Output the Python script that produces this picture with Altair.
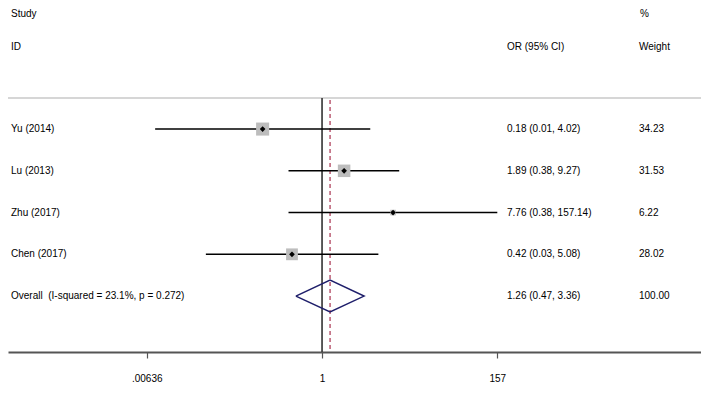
import altair as alt
import pandas as pd

# ---- data ----
studies = ["Yu (2014)", "Lu (2013)", "Zhu (2017)", "Chen (2017)"]
or_vals = [0.18, 1.89, 7.76, 0.42]
ci_low = [0.0081, 0.38, 0.38, 0.035]     # as drawn in the picture
ci_high = [4.02, 9.27, 157.14, 5.08]
weights = [34.23, 31.53, 6.22, 28.02]
or_labels = ["0.18 (0.01, 4.02)", "1.89 (0.38, 9.27)", "7.76 (0.38, 157.14)", "0.42 (0.03, 5.08)"]
weight_labels = ["34.23", "31.53", "6.22", "28.02"]

overall_name = "Overall\u00a0 (I-squared = 23.1%, p = 0.272)"
overall_or = 1.26
overall_low = 0.47
overall_high = 3.36
overall_label = "1.26 (0.47, 3.36)"
overall_weight = "100.00"

tick_values = [0.00636, 1, 157]
tick_labels = [".00636", "1", "157"]

FONT = "Liberation Sans"
FS = 10

rows = list(range(len(studies)))
overall_row = len(studies)

df = pd.DataFrame({
    "row": rows, "study": studies, "or": or_vals, "lo": ci_low, "hi": ci_high,
    "w": weights, "orlab": or_labels, "wlab": weight_labels,
})
text_df = pd.DataFrame({
    "row": rows + [overall_row],
    "study": studies + [overall_name],
    "orlab": or_labels + [overall_label],
    "wlab": weight_labels + [overall_weight],
})
half = 0.38
diamond_df = pd.DataFrame({
    "x": [overall_low, overall_or, overall_high, overall_or, overall_low],
    "row": [overall_row, overall_row - half, overall_row, overall_row + half, overall_row],
    "ord": [0, 1, 2, 3, 4],
})
ref_df = pd.DataFrame({"x": [1.0], "pooled": [overall_or]})
hdr_df = pd.DataFrame({"a": [0]})

label_expr = " : ".join(
    f"abs(datum.value - {v}) < {v * 0.01} ? '{l}'" for v, l in zip(tick_values, tick_labels)
) + " : ''"

xscale = alt.Scale(type="log", domain=[1.16e-4, 56100], nice=False)
yscale = alt.Scale(domain=[-2.9, 5.34], reverse=True, nice=False, zero=False)

X = lambda f: alt.X(f, scale=xscale, axis=alt.Axis(
    values=tick_values, labelExpr=label_expr, title=None, grid=False,
    domainColor="#555555", domainWidth=2, tickColor="#555555", tickWidth=1.2,
    tickSize=6, labelFont=FONT, labelFontSize=FS, labelColor="black",
    labelPadding=15, labelFlush=False))
Y = alt.Y("row:Q", scale=yscale, axis=None)

base = alt.Chart(df)

ci = base.mark_rule(color="black", strokeWidth=1.5).encode(
    x=X("lo:Q"), x2="hi:Q", y=Y)
squares = base.mark_square(color="#bdbdbd", opacity=1).encode(
    x=X("or:Q"), y=Y, size=alt.Size("w:Q", scale=alt.Scale(type="linear", domain=[0, 34.23], range=[0, 170], zero=True), legend=None))
points = base.mark_point(shape="diamond", filled=True, color="black", size=32, opacity=1).encode(
    x=X("or:Q"), y=Y)

null_line = alt.Chart(ref_df).mark_rule(color="#333333", strokeWidth=1.6).encode(
    x=X("x:Q"), y=alt.value(90), y2=alt.value(344))
pooled_line = alt.Chart(ref_df).mark_rule(color="#a8324f", strokeWidth=1.2, strokeDash=[4, 3]).encode(
    x=X("pooled:Q"), y=alt.value(92), y2=alt.value(344))

diamond = alt.Chart(diamond_df).mark_line(color="#1f1f6b", strokeWidth=1.5).encode(
    x=X("x:Q"), y=alt.Y("row:Q", scale=yscale, axis=None), order="ord:O")

sep = alt.Chart(hdr_df).mark_rule(color="#c8c8c8", strokeWidth=1.5).encode(
    x=alt.value(-8), x2=alt.value(701), y=alt.value(90))

tbase = alt.Chart(text_df).mark_text(align="left", baseline="middle", font=FONT, fontSize=FS, color="black")
study_txt = tbase.encode(x=alt.value(3), y=Y, text="study:N")
or_txt = tbase.encode(x=alt.value(499), y=Y, text="orlab:N")
w_txt = tbase.encode(x=alt.value(631), y=Y, text="wlab:N")

hbase = alt.Chart(hdr_df).mark_text(align="left", baseline="middle", font=FONT, fontSize=FS, color="black")
h1 = hbase.encode(x=alt.value(3), y=alt.value(6), text=alt.value("Study"))
h2 = hbase.encode(x=alt.value(3), y=alt.value(39), text=alt.value("ID"))
h3 = hbase.encode(x=alt.value(499), y=alt.value(39), text=alt.value("OR (95% CI)"))
h4 = hbase.encode(x=alt.value(632), y=alt.value(6), text=alt.value("%"))
h5 = hbase.encode(x=alt.value(631), y=alt.value(39), text=alt.value("Weight"))

chart = alt.layer(
    sep, null_line, pooled_line, ci, squares, points, diamond,
    study_txt, or_txt, w_txt, h1, h2, h3, h4, h5,
).properties(
    width=693, height=344,
    autosize=alt.AutoSizeParams(type="none"),
    padding={"left": 0, "top": 0, "right": 0, "bottom": 48},
    background="white",
).configure_view(strokeWidth=0)

chart.save("out.html", embed_options={"renderer": "svg", "actions": False})
